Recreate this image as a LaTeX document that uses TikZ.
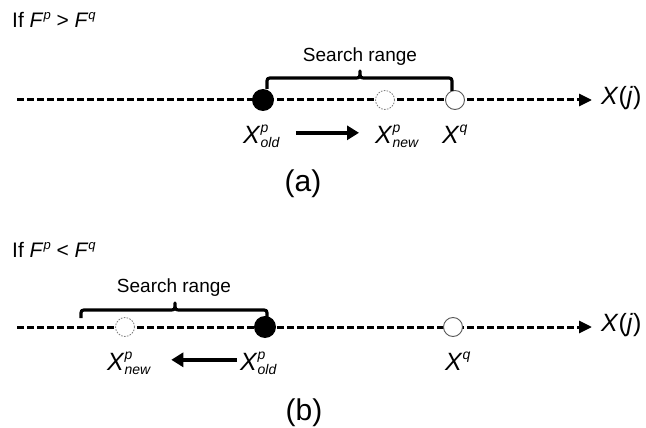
\documentclass[tikz,border=0pt]{standalone}
\usepackage{fontspec}
\setmainfont{Liberation Sans}
\usetikzlibrary{arrows.meta}

% symbol with superscript and subscript
\newcommand\supsub[3]{\textit{#1}\rlap{\raisebox{11pt}{\fontsize{14}{14}\selectfont\textit{#2}}}\raisebox{-4pt}{\fontsize{14}{14}\selectfont\textit{#3}}}
% symbol with superscript only
\newcommand\suponly[2]{\textit{#1}\raisebox{11pt}{\fontsize{14}{14}\selectfont\textit{#2}}}
% superscript used in the headings
\newcommand\hsup[2]{\textit{#1}\raisebox{8pt}{\fontsize{13}{13}\selectfont\textit{#2}}}

\tikzset{
  axis/.style={line width=3pt, dash pattern=on 6.5pt off 3.5pt,
    -{Triangle[length=13pt,width=12pt]}},
  olddot/.style={circle, fill=black, minimum size=22pt, inner sep=0pt},
  newdot/.style={circle, draw=gray, dash pattern=on 1.6pt off 1.3pt,
    line width=0.8pt, fill=white, minimum size=19pt, inner sep=0pt},
  qdot/.style={circle, draw=black!65, line width=0.9pt, fill=white,
    minimum size=19pt, inner sep=0pt},
  bracepath/.style={line width=3.2pt, line join=round},
  move/.style={line width=4.5pt, -{Triangle[length=12pt,width=14pt]}},
  heading/.style={anchor=base west, inner sep=0pt, font=\fontsize{21}{25}\selectfont},
  rangelabel/.style={anchor=base, inner sep=0pt, font=\fontsize{19}{23}\selectfont},
  varlabel/.style={anchor=base west, inner sep=0pt, font=\fontsize{25}{30}\selectfont},
  caption/.style={inner sep=0pt, font=\fontsize{30}{36}\selectfont},
}

\begin{document}
\begin{tikzpicture}[x=1pt,y=-1pt]
\useasboundingbox (0,0) rectangle (646,428);

% ---------------- case (a) ----------------
\node[heading] (h1) at (12,28) {If \hsup{F}{p} > \hsup{F}{q}};

\coordinate (a1s) at (17,100);
\coordinate (a1e) at (592,100);
\draw[axis] (a1s) -- (a1e);

\node[olddot] (old1) at (263,100) {};
\node[newdot] (new1) at (385,100) {};
\node[qdot]   (q1)   at (455,100) {};
\node[varlabel, anchor=west] (xj1) at (601,98) {\textit{X}(\textit{j})};

\draw[bracepath] (267,89) -- (267,84) .. controls (267,78) .. (273,78)
  -- (354,78) .. controls (360,78) .. (360,71)
  .. controls (360,78) .. (366,78) -- (446,78)
  .. controls (452,78) .. (452,84) -- (452,91);
\node[rangelabel] (r1) at (360,62) {Search range};

\node[varlabel] (lo1) at (243,143) {\supsub{X}{p}{old}};
\node[varlabel] (ln1) at (375,143) {\supsub{X}{p}{new}};
\node[varlabel] (lq1) at (442,143) {\suponly{X}{q}};
\draw[move, shorten <=16pt, shorten >=16pt] ([yshift=3pt]lo1.east) -- ([yshift=3pt]lo1.east -| ln1.west);

\node[caption] (ca) at (303,184) {(a)};

% ---------------- case (b) ----------------
\node[heading] (h2) at (12,257) {If \hsup{F}{p} < \hsup{F}{q}};

\coordinate (b1s) at (17,327);
\coordinate (b1e) at (592,327);
\draw[axis] (b1s) -- (b1e);

\node[newdot] (new2) at (125,327) {};
\node[olddot] (old2) at (265,327) {};
\node[qdot]   (q2)   at (453,327) {};
\node[varlabel, anchor=west] (xj2) at (601,325) {\textit{X}(\textit{j})};

\draw[bracepath] (81,318) -- (81,316) .. controls (81,310) .. (87,310)
  -- (169,310) .. controls (175,310) .. (175,303)
  .. controls (175,310) .. (181,310) -- (261,310)
  .. controls (267,310) .. (267,316) -- (267,318);
\node[rangelabel] (r2) at (174,292) {Search range};

\node[varlabel] (ln2) at (107,370) {\supsub{X}{p}{new}};
\node[varlabel] (lo2) at (240,370) {\supsub{X}{p}{old}};
\node[varlabel] (lq2) at (445,370) {\suponly{X}{q}};
\draw[move, shorten <=3pt, shorten >=20pt] ([yshift=3pt]lo2.west) -- ([yshift=3pt]lo2.west -| ln2.east);

\node[caption] (cb) at (304,413) {(b)};
\end{tikzpicture}
\end{document}
